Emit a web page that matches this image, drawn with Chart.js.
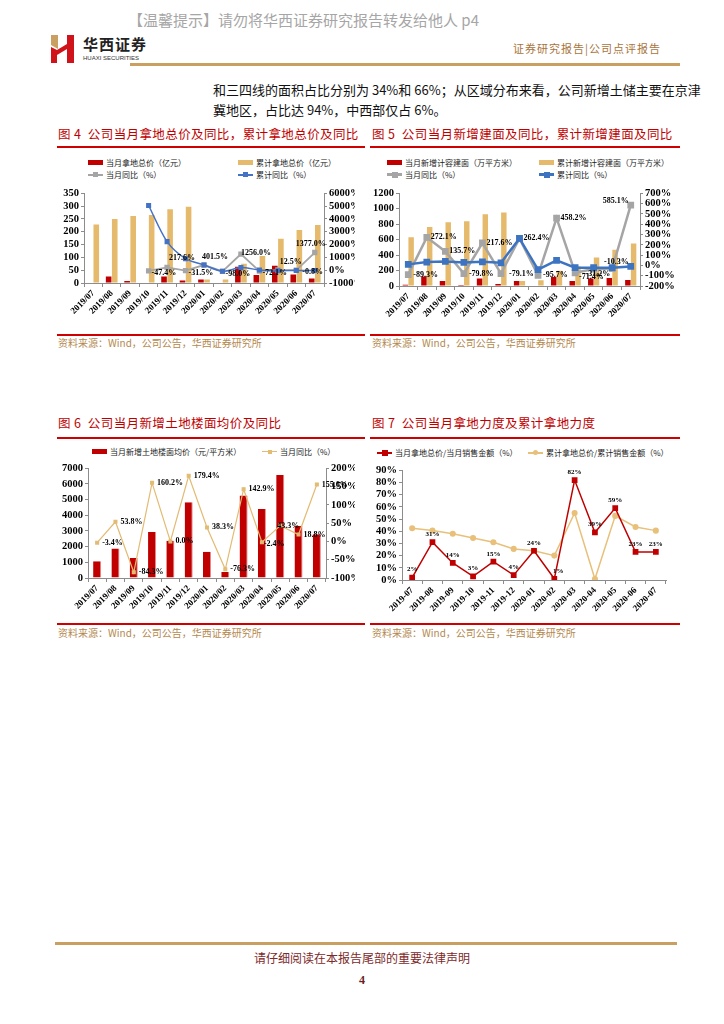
<!DOCTYPE html>
<html>
<head>
<meta charset="utf-8">
<script src="https://cdn.jsdelivr.net/npm/chart.js@4.4.1/dist/chart.umd.min.js"></script>
<style>
  body { margin: 0; width: 724px; height: 1024px; position: relative; overflow: hidden; background: #fff;
         font-family: "Noto Sans CJK SC", sans-serif; }
  .abs { position: absolute; white-space: nowrap; }
  .warn { left: 128px; top: 10px; font-size: 15px; color: #a6a6a6; line-height: 20px; }
  .brand { left: 83px; top: 35px; font-size: 15px; font-weight: bold; color: #222; line-height: 18px; letter-spacing: 1px; }
  .brand-en { left: 83px; top: 54px; font-size: 6px; color: #333; line-height: 8px; font-family: "Liberation Sans", sans-serif; }
  .htag { left: 513px; top: 41px; font-size: 11px; color: #a8743c; line-height: 14px; letter-spacing: 1px; }
  .gold { background: #c9a062; height: 3px; }
  .body { left: 213px; font-size: 13px; color: #111; line-height: 18px; }
  .title { font-size: 12.5px; color: #c00000; line-height: 16px; letter-spacing: 0.4px; }
  .rline { background: #d00000; height: 2px; }
  .src { font-size: 10px; color: #b4894f; line-height: 12px; }
  .legend { position: absolute; display: grid; row-gap: 1px; font-size: 8px; color: #222; line-height: 11px; }
  .legend .it { display: flex; align-items: center; }
  .legend .mk { position: relative; width: 15px; height: 11px; margin-right: 3px; flex: none; }
  .foot { left: 0; width: 724px; text-align: center; }
</style>
</head>
<body>

<div class="abs warn">【温馨提示】请勿将华西证券研究报告转发给他人 p4</div>
<svg class="abs" style="left:51px;top:35px" width="24" height="28" viewBox="0 0 24 28">
  <polygon points="0,0 7,0 7,14 0,10" fill="#c9a062"/>
  <polygon points="0,12 6,15 6,28 0,28" fill="#d0121b"/>
  <polygon points="16,0 23,0 23,28 16,28" fill="#d0121b"/>
  <polygon points="6,15 16,9 16,14 6,20" fill="#d0121b"/>
</svg>
<div class="abs brand">华西证券</div>
<div class="abs brand-en">HUAXI SECURITIES</div>
<div class="abs htag">证券研究报告|公司点评报告</div>
<div class="abs gold" style="left:130px;top:63px;width:550px"></div>

<div class="abs body" style="top:81px">和三四线的面积占比分别为 34%和 66%；从区域分布来看，公司新增土储主要在京津</div>
<div class="abs body" style="top:101px">冀地区，占比达 94%，中西部仅占 6%。</div>

<div class="abs title" style="left:58px;top:126px">图 4&nbsp;&nbsp;公司当月拿地总价及同比，累计拿地总价及同比</div>
<div class="abs title" style="left:372px;top:126px">图 5&nbsp;&nbsp;公司当月新增建面及同比，累计新增建面及同比</div>
<div class="abs rline" style="left:57px;top:146px;width:308px"></div>
<div class="abs rline" style="left:370px;top:146px;width:310px"></div>

<div class="abs rline" style="left:57px;top:334px;width:308px"></div>
<div class="abs rline" style="left:370px;top:334px;width:310px"></div>
<div class="abs src" style="left:58px;top:337px">资料来源：Wind，公司公告，华西证券研究所</div>
<div class="abs src" style="left:372px;top:337px">资料来源：Wind，公司公告，华西证券研究所</div>

<div class="abs title" style="left:58px;top:415px">图 6&nbsp;&nbsp;公司当月新增土地楼面均价及同比</div>
<div class="abs title" style="left:372px;top:415px">图 7&nbsp;&nbsp;公司当月拿地力度及累计拿地力度</div>
<div class="abs rline" style="left:57px;top:437px;width:308px"></div>
<div class="abs rline" style="left:370px;top:437px;width:310px"></div>

<div class="abs rline" style="left:57px;top:623px;width:308px"></div>
<div class="abs rline" style="left:370px;top:623px;width:310px"></div>
<div class="abs src" style="left:58px;top:627px">资料来源：Wind，公司公告，华西证券研究所</div>
<div class="abs src" style="left:372px;top:627px">资料来源：Wind，公司公告，华西证券研究所</div>

<canvas id="c4" class="abs" style="left:55px;top:185px" width="300" height="145"></canvas>
<canvas id="c5" class="abs" style="left:360px;top:185px" width="320" height="145"></canvas>
<canvas id="c6" class="abs" style="left:55px;top:460px" width="300" height="155"></canvas>
<canvas id="c7" class="abs" style="left:360px;top:462px" width="320" height="153"></canvas>

<div id="lg4" class="legend" style="left:88px;top:157px;grid-template-columns:150px 150px"></div>
<div id="lg5" class="legend" style="left:387px;top:157px;grid-template-columns:152px 152px"></div>
<div id="lg6" class="legend" style="left:92px;top:446px;grid-template-columns:170px 100px"></div>
<div id="lg7" class="legend" style="left:377px;top:447px;grid-template-columns:151px 160px"></div>

<div class="abs gold" style="left:55px;top:942px;width:622px"></div>
<div class="abs foot" style="top:950px;font-size:12px;color:#7d2a2a;line-height:16px">请仔细阅读在本报告尾部的重要法律声明</div>
<div class="abs foot" style="top:972px;font-size:12px;font-weight:bold;color:#6b1f1f;line-height:16px;font-family:'Liberation Serif',serif">4</div>

<script>
// categories
const months = ['2019/07','2019/08','2019/09','2019/10','2019/11','2019/12','2020/01','2020/02','2020/03','2020/04','2020/05','2020/06','2020/07'];
const monthsDash = ['2019-07','2019-08','2019-09','2019-10','2019-11','2019-12','2020-01','2020-02','2020-03','2020-04','2020-05','2020-06','2020-07'];

// fig 4: land cost (亿元) and yoy (%)
const landMonthly = [0, 25, 8, 0, 25, 10, 14, 0, 63, 31, 67, 33, 18];
const landCum = [228, 250, 261, 265, 288, 298, 14, 14, 75, 105, 173, 207, 226];
const landMonthlyYoY = [null, null, null, -47.4, 217.6, -31.5, 401.5, -98.0, 1256.0, -72.1, 12.5, -0.8, 1377.0];
const landCumYoY = [null, null, null, 5050, 2230, 900, 401.5, -80, 200, 20, -40, -20, -20];

// fig 5: new floor area (万平方米) and yoy (%)
const areaMonthly = [15, 123, 64, 12, 98, 25, 64, 0, 115, 64, 98, 102, 77];
const areaCum = [631, 763, 826, 839, 928, 953, 64, 76, 199, 254, 369, 470, 551];
const areaMonthlyYoY = [-89.3, 272.1, 135.7, -79.8, 217.6, -79.1, 262.4, -95.7, 458.2, -71.4, -35, -31.2, 585.1];
const areaCumYoY = [10, 32, 38, 29, 35, 25, 262.4, -41, 48, -22, -22, -22, -10.3];

// fig 6: land floor price (元/平方米) and yoy (%)
const priceMonthly = [1070, 1890, 1280, 2940, 2370, 4830, 1680, 380, 5270, 4410, 6580, 3320, 2790];
const priceYoY = [-3.4, 53.8, -84.3, 160.2, 0.0, 179.4, 38.3, -76.3, 142.9, -2.4, 43.3, 18.8, 155.6];

// fig 7: land cost / sales (%)
const ratioMonthly = [2, 31, 14, 3, 15, 4, 24, 1, 82, 39, 59, 23, 23];
const ratioCum = [42.5, 40.6, 38, 34.4, 31, 25.5, 24, 20, 55, 0.8, 52.6, 43.5, 40.5];

const RED = '#c00000', GOLD = '#e6ba6c', GRAY = '#a5a5a5', BLUE = '#4472c4';
const tickFont = { family: 'Liberation Serif', size: 10.5, weight: 'bold' };
const xFont = { family: 'Liberation Serif', size: 9, weight: 'bold' };
const axisColor = '#8c8c8c';

Chart.defaults.font.family = 'Liberation Serif';
Chart.defaults.animation = false;

// value labels drawn at the element positions the library computed
const valueLabels = {
  id: 'valueLabels',
  afterDatasetsDraw(chart, args, opts) {
    const ctx = chart.ctx;
    (opts.sets || []).forEach(s => {
      const meta = chart.getDatasetMeta(s.index);
      const values = chart.data.datasets[s.index].data;
      ctx.save();
      ctx.font = opts.font || 'bold 8px "Liberation Serif"';
      ctx.fillStyle = '#000';
      meta.data.forEach((pt, i) => {
        const v = values[i];
        if (v === null || v === undefined) return;
        if (s.only && !s.only.includes(i)) return;
        const off = (s.offsets && s.offsets[i]) || s.offset;
        ctx.textAlign = off[2] || 'left';
        ctx.textBaseline = 'middle';
        ctx.fillText(s.format(v), pt.x + off[0], pt.y + off[1]);
      });
      ctx.restore();
    });
  }
};

function xAxis(labels, height) {
  return {
    offset: true,
    grid: { offset: true, drawOnChartArea: false, drawTicks: true, tickLength: 4, color: axisColor },
    border: { color: axisColor },
    ticks: { font: xFont, color: '#000', maxRotation: 45, minRotation: 45, autoSkip: false, padding: 1 },
    afterFit(scale) { scale.height = height; }
  };
}

function yAxis(opts) {
  return {
    position: opts.position || 'left',
    min: opts.min, max: opts.max,
    grid: { drawOnChartArea: false, drawTicks: true, tickLength: 3, color: axisColor },
    border: { color: axisColor },
    ticks: { font: tickFont, color: '#000', stepSize: opts.step, padding: 2, autoSkip: false,
             callback: opts.pct ? (v => v + '%') : (v => v) },
    afterFit(scale) { scale.width = opts.width; }
  };
}

const pct1 = v => v.toFixed(1) + '%';

// ---- figure 4
const chart4 = new Chart(document.getElementById('c4'), {
  type: 'bar',
  data: {
    labels: months,
    datasets: [
      { type: 'bar', label: '当月拿地总价（亿元）', data: landMonthly, backgroundColor: RED, yAxisID: 'y',
        categoryPercentage: 0.66, barPercentage: 0.92, order: 2 },
      { type: 'bar', label: '累计拿地总价（亿元）', data: landCum, backgroundColor: GOLD, yAxisID: 'y',
        categoryPercentage: 0.66, barPercentage: 0.92, order: 2 },
      { type: 'line', label: '当月同比（%）', data: landMonthlyYoY, borderColor: GRAY, backgroundColor: GRAY,
        borderWidth: 1.8, pointStyle: 'rect', pointRadius: 2.5, yAxisID: 'y1', order: 1 },
      { type: 'line', label: '累计同比（%）', data: landCumYoY, borderColor: BLUE, backgroundColor: BLUE,
        borderWidth: 1.5, pointStyle: 'rect', pointRadius: 2.5, tension: 0.3, yAxisID: 'y1', order: 0 }
    ]
  },
  options: {
    responsive: false,
    layout: { padding: { top: 7, left: 0, right: 0, bottom: 0 } },
    plugins: {
      legend: { display: false }, tooltip: { enabled: false },
      valueLabels: { sets: [
        { index: 2, format: pct1, offset: [3, 2],
          offsets: { 4: [2, -9], 6: [-2, -8], 8: [0, -1], 10: [2, -8], 11: [6, 2], 12: [-4, -9, 'center'] } }
      ] }
    },
    scales: {
      x: xAxis(months, 47),
      y: yAxis({ min: 0, max: 350, step: 50, width: 29 }),
      y1: yAxis({ position: 'right', min: -1000, max: 6000, step: 1000, pct: true, width: 31 })
    }
  },
  plugins: [valueLabels]
});

// ---- figure 5
const chart5 = new Chart(document.getElementById('c5'), {
  type: 'bar',
  data: {
    labels: months,
    datasets: [
      { type: 'bar', label: '当月新增计容建面（万平方米）', data: areaMonthly, backgroundColor: RED, yAxisID: 'y',
        categoryPercentage: 0.62, barPercentage: 0.95, order: 2 },
      { type: 'bar', label: '累计新增计容建面（万平方米）', data: areaCum, backgroundColor: GOLD, yAxisID: 'y',
        categoryPercentage: 0.62, barPercentage: 0.95, order: 2 },
      { type: 'line', label: '当月同比（%）', data: areaMonthlyYoY, borderColor: GRAY, backgroundColor: GRAY,
        borderWidth: 2.5, pointStyle: 'rect', pointRadius: 3, yAxisID: 'y1', order: 1 },
      { type: 'line', label: '累计同比（%）', data: areaCumYoY, borderColor: '#3d74c2', backgroundColor: '#3d74c2',
        borderWidth: 2.5, pointStyle: 'rect', pointRadius: 3, yAxisID: 'y1', order: 0 }
    ]
  },
  options: {
    responsive: false,
    layout: { padding: { top: 7, left: 0, right: 0, bottom: 0 } },
    plugins: {
      legend: { display: false }, tooltip: { enabled: false },
      valueLabels: { sets: [
        { index: 2, format: pct1, offset: [4, 0],
          only: [0, 1, 2, 3, 4, 5, 6, 7, 8, 9, 11, 12],
          offsets: { 0: [5, 0], 3: [5, 0], 5: [8, 0], 7: [5, 0], 9: [4, 4], 11: [-2, 5, 'right'], 12: [-2, -4, 'right'] } },
        { index: 3, format: pct1, only: [12], offset: [-2, -5, 'right'] }
      ] }
    },
    scales: {
      x: xAxis(months, 44),
      y: yAxis({ min: 0, max: 1200, step: 200, width: 39 }),
      y1: yAxis({ position: 'right', min: -200, max: 700, step: 100, pct: true, width: 40 })
    }
  },
  plugins: [valueLabels]
});

// ---- figure 6
const chart6 = new Chart(document.getElementById('c6'), {
  type: 'bar',
  data: {
    labels: months,
    datasets: [
      { type: 'bar', label: '当月新增土地楼面均价（元/平方米）', data: priceMonthly, backgroundColor: RED,
        borderColor: '#e48a8a', borderWidth: { right: 1 }, yAxisID: 'y',
        categoryPercentage: 0.9, barPercentage: 0.49, order: 1 },
      { type: 'line', label: '当月同比（%）', data: priceYoY, borderColor: '#e3bb72', backgroundColor: '#e3bb72',
        borderWidth: 1.2, pointStyle: 'rect', pointRadius: 2, yAxisID: 'y1', order: 0 }
    ]
  },
  options: {
    responsive: false,
    layout: { padding: { top: 7, left: 0, right: 0, bottom: 0 } },
    plugins: {
      legend: { display: false }, tooltip: { enabled: false },
      valueLabels: { sets: [
        { index: 1, format: pct1, offset: [5, 0], offsets: { 9: [2, 2], 10: [-3, 0] } }
      ] }
    },
    scales: {
      x: xAxis(months, 37),
      y: yAxis({ min: 0, max: 7000, step: 1000, width: 33 }),
      y1: yAxis({ position: 'right', min: -100, max: 200, step: 50, pct: true, width: 29 })
    }
  },
  plugins: [valueLabels]
});

// ---- figure 7
const chart7 = new Chart(document.getElementById('c7'), {
  type: 'line',
  data: {
    labels: monthsDash,
    datasets: [
      { label: '当月拿地总价/当月销售金额（%）', data: ratioMonthly, borderColor: RED, backgroundColor: RED,
        borderWidth: 1.5, pointStyle: 'rect', pointRadius: 3, order: 0 },
      { label: '累计拿地总价/累计销售金额（%）', data: ratioCum, borderColor: '#e8c07a', backgroundColor: '#e8c07a',
        borderWidth: 1.5, pointStyle: 'circle', pointRadius: 2.3, order: 1 }
    ]
  },
  options: {
    responsive: false,
    layout: { padding: { top: 7, left: 0, right: 14, bottom: 0 } },
    plugins: {
      legend: { display: false }, tooltip: { enabled: false },
      valueLabels: { font: 'bold 7px "Liberation Serif"', sets: [
        { index: 0, format: v => Math.round(v) + '%', offset: [0, -8, 'center'], offsets: { 7: [4, -8, 'center'] } }
      ] }
    },
    scales: {
      x: xAxis(monthsDash, 35),
      y: yAxis({ min: 0, max: 90, step: 10, pct: true, width: 42 })
    }
  },
  plugins: [valueLabels]
});

// legends built from the chart datasets, laid out as a grid like the source
function markerHtml(ds) {
  if (ds.type === 'bar') {
    return '<span class="mk"><span style="position:absolute;left:0;top:3px;width:15px;height:5px;background:' + ds.backgroundColor + '"></span></span>';
  }
  const lw = Math.max(1, Math.round(ds.borderWidth));
  const s = ds.pointStyle === 'circle' ? 'border-radius:50%;' : '';
  const pr = Math.round(ds.pointRadius * 2);
  return '<span class="mk"><span style="position:absolute;left:0;top:' + (5.5 - lw / 2) + 'px;width:15px;height:' + lw + 'px;background:' + ds.borderColor + '"></span>' +
    '<span style="position:absolute;left:' + (7.5 - pr / 2) + 'px;top:' + (5.5 - pr / 2) + 'px;width:' + pr + 'px;height:' + pr + 'px;' + s + 'background:' + ds.borderColor + '"></span></span>';
}
function buildLegend(chart, id) {
  const el = document.getElementById(id);
  el.innerHTML = chart.data.datasets.map(ds =>
    '<div class="it">' + markerHtml(Object.assign({ type: chart.config.type }, ds)) + '<span>' + ds.label + '</span></div>'
  ).join('');
}
buildLegend(chart4, 'lg4');
buildLegend(chart5, 'lg5');
buildLegend(chart6, 'lg6');
buildLegend(chart7, 'lg7');
</script>
</body>
</html>
